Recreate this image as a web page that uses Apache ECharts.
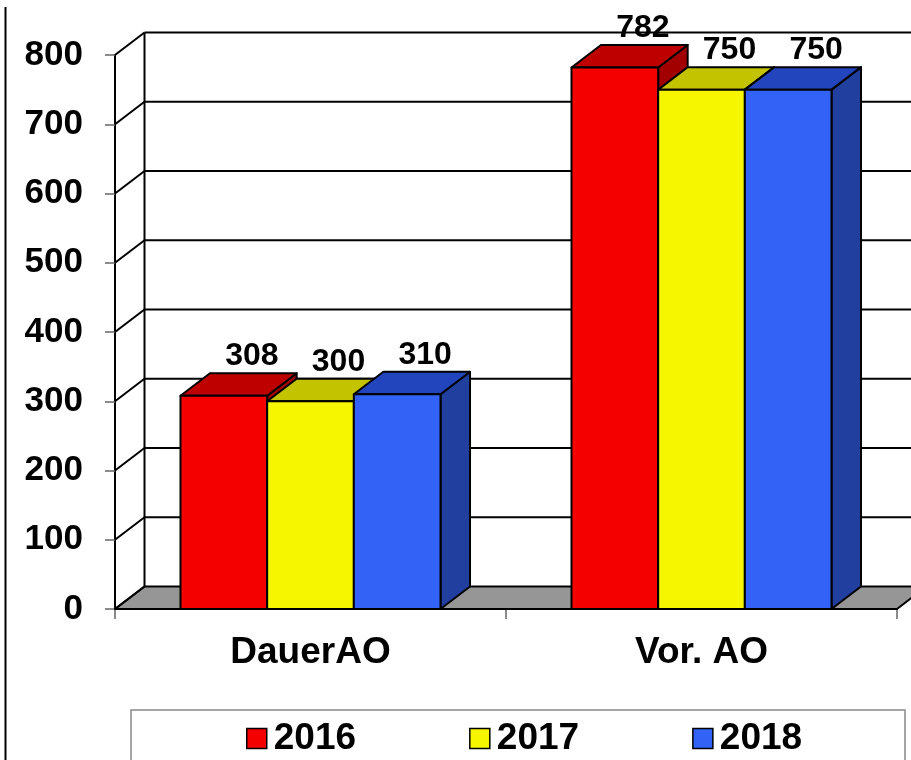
<!DOCTYPE html>
<html>
<head>
<meta charset="utf-8">
<title>DauerAO / Vor. AO</title>
<script src="https://cdn.jsdelivr.net/npm/echarts@6/dist/echarts.min.js"></script>
<style>
  html, body { margin: 0; padding: 0; background: #fff; }
  #chart { width: 911px; height: 760px; }
</style>
</head>
<body>
<div id="chart"></div>
<script>
// Data
const categories = ['DauerAO', 'Vor. AO'];
const years = ['2016', '2017', '2018'];
const values2016 = [308, 782];
const values2017 = [300, 750];
const values2018 = [310, 750];
const yTicks = [0, 100, 200, 300, 400, 500, 600, 700, 800];

// Look of the fake 3D
const FONT = '"Liberation Sans", Arial, sans-serif';
const DEPTH_X = 29.5;
const DEPTH_Y = -22.5;
const GROUP_RATIO = 0.665;
const palette = [
  { front: '#F40000', top: '#BE0000', side: '#A20000' },
  { front: '#F6F600', top: '#C3C300', side: '#A0A000' },
  { front: '#3363F6', top: '#2245BD', side: '#213F9E' }
];

const chart = echarts.init(document.getElementById('chart'));

// back wall, side wall and floor, one item per y tick
function renderWall(params, api) {
  const cs = params.coordSys;
  const v = api.value(1);
  const y = api.coord([0, v])[1];
  const left = cs.x;
  const right = cs.x + cs.width;
  const line = { stroke: '#000', lineWidth: 2 };
  const children = [];

  if (v === 0) {
    children.push({
      type: 'polygon',
      shape: { points: [[left, y], [right, y], [right + DEPTH_X, y + DEPTH_Y], [left + DEPTH_X, y + DEPTH_Y]] },
      style: { fill: '#969696', stroke: '#000', lineWidth: 2, lineJoin: 'round' }
    });
    const yMax = api.coord([0, yTicks[yTicks.length - 1]])[1];
    children.push({
      type: 'line',
      shape: { x1: left + DEPTH_X, y1: y + DEPTH_Y, x2: left + DEPTH_X, y2: yMax + DEPTH_Y },
      style: line
    });
  } else {
    children.push({
      type: 'line',
      shape: { x1: left + DEPTH_X, y1: y + DEPTH_Y, x2: right + DEPTH_X, y2: y + DEPTH_Y },
      style: line
    });
  }
  children.push({
    type: 'line',
    shape: { x1: left, y1: y, x2: left + DEPTH_X, y2: y + DEPTH_Y },
    style: line
  });
  return { type: 'group', children };
}

function makeBarRenderer(idx) {
  const col = palette[idx];
  return function (params, api) {
    const cat = api.value(0);
    const val = api.value(1);
    const center = api.coord([cat, 0])[0];
    const y0 = api.coord([cat, 0])[1];
    const yTop = api.coord([cat, val])[1];
    const bandW = api.size([1, 0])[0];
    const groupW = bandW * GROUP_RATIO;
    const barW = groupW / 3;
    const x0 = center - groupW / 2 + idx * barW;
    const x1 = x0 + barW;
    const edge = { stroke: '#000', lineWidth: 2, lineJoin: 'round' };

    return {
      type: 'group',
      children: [
        {
          type: 'polygon',
          shape: { points: [[x1, yTop], [x1 + DEPTH_X, yTop + DEPTH_Y], [x1 + DEPTH_X, y0 + DEPTH_Y], [x1, y0]] },
          style: Object.assign({ fill: col.side }, edge)
        },
        {
          type: 'polygon',
          shape: { points: [[x0, yTop], [x1, yTop], [x1 + DEPTH_X, yTop + DEPTH_Y], [x0 + DEPTH_X, yTop + DEPTH_Y]] },
          style: Object.assign({ fill: col.top }, edge)
        },
        {
          type: 'rect',
          shape: { x: x0, y: yTop, width: barW, height: y0 - yTop },
          style: Object.assign({ fill: col.front }, edge)
        },
        {
          type: 'text',
          z2: 10,
          style: {
            text: String(val),
            x: x0 + barW / 2 + 28,
            y: yTop + DEPTH_Y - 1,
            align: 'center',
            verticalAlign: 'bottom',
            font: 'bold 32px ' + FONT,
            fill: '#000'
          }
        }
      ]
    };
  };
}

const seriesValues = [values2016, values2017, values2018];

const barSeries = years.map((name, i) => ({
  name,
  type: 'custom',
  z: 3 + i,
  silent: true,
  renderItem: makeBarRenderer(i),
  itemStyle: { color: palette[i].front, borderColor: '#000', borderWidth: 1.5 },
  data: seriesValues[i].map((v, c) => [c, v])
}));

chart.setOption({
  animation: false,
  backgroundColor: '#fff',
  grid: { left: 115, right: 14, top: 55, bottom: 151 },
  xAxis: {
    type: 'category',
    data: categories,
    axisLine: { show: true, lineStyle: { color: '#000', width: 2 } },
    axisTick: { show: true, length: 10, lineStyle: { color: '#666', width: 1.5 } },
    axisLabel: {
      margin: 25,
      color: '#000',
      fontFamily: FONT,
      fontWeight: 'bold',
      fontSize: 37
    }
  },
  yAxis: {
    type: 'value',
    min: 0,
    max: 800,
    interval: 100,
    axisLine: { show: true, lineStyle: { color: '#000', width: 2 } },
    axisTick: { show: true, length: 10, lineStyle: { color: '#666', width: 1.5 } },
    splitLine: { show: false },
    axisLabel: {
      margin: 32,
      color: '#000',
      fontFamily: FONT,
      fontWeight: 'bold',
      fontSize: 35
    }
  },
  legend: {
    data: years,
    left: 241,
    top: 715,
    icon: 'rect',
    itemWidth: 20,
    itemHeight: 20,
    itemGap: 113,
    itemStyle: { borderColor: '#000', borderWidth: 1.5 },
    textStyle: {
      color: '#000',
      fontFamily: FONT,
      fontWeight: 'bold',
      fontSize: 37,
      padding: [0, 0, 0, 2]
    }
  },
  graphic: [
    {
      type: 'line',
      shape: { x1: 5.5, y1: 7, x2: 5.5, y2: 760 },
      style: { stroke: '#000', lineWidth: 2 }
    },
    {
      type: 'rect',
      shape: { x: 131, y: 710, width: 774, height: 80 },
      style: { fill: 'none', stroke: '#888', lineWidth: 1.5 },
      z: -1
    }
  ],
  series: [
    {
      name: 'wall',
      type: 'custom',
      z: 2,
      silent: true,
      renderItem: renderWall,
      data: yTicks.map(v => [0, v])
    }
  ].concat(barSeries)
});
</script>
</body>
</html>
